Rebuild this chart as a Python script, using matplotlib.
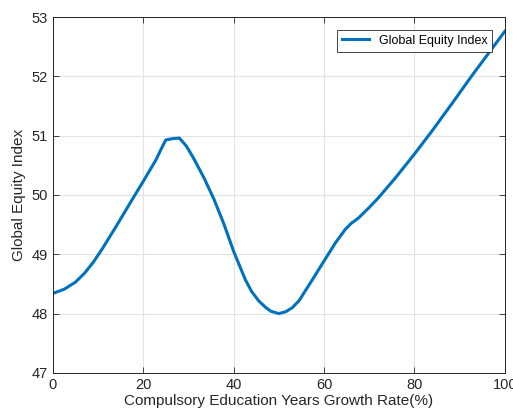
import matplotlib
matplotlib.use('Agg')
import matplotlib.pyplot as plt

plt.rcParams['font.family'] = ['Liberation Sans', 'DejaVu Sans']

# growth rate (%) and index values along the curve
growth_rate = [0, 2.5, 5, 7, 9, 11, 14, 17.3, 20, 22.8, 24, 25, 26.5, 28,
               29.5, 31, 33.5, 35.7, 37.9, 40, 42.6, 44, 45.6, 47, 48.2, 50,
               51.5, 53, 54.5, 56, 57.5, 59.7, 62.5, 64.7, 66, 67.6, 70, 72,
               75.7, 79.8, 83.8, 88.2, 92.6, 96.3, 100]
equity_index = [48.34, 48.41, 48.53, 48.68, 48.87, 49.10, 49.47, 49.89,
                50.23, 50.59, 50.78, 50.93, 50.95, 50.96, 50.83, 50.64,
                50.28, 49.92, 49.50, 49.05, 48.57, 48.37, 48.21, 48.11,
                48.04, 48.00, 48.03, 48.10, 48.22, 48.40, 48.58, 48.85,
                49.19, 49.42, 49.52, 49.61, 49.79, 49.95, 50.28, 50.67,
                51.07, 51.53, 52.00, 52.38, 52.76]

fig = plt.figure(figsize=(5.13, 4.18), dpi=100)
ax = fig.add_axes([0.103, 0.108, 0.881, 0.851])

ax.plot(growth_rate, equity_index, color='#0072BD', linewidth=2.2,
        solid_joinstyle='round', label='Global Equity Index')

ax.set_xlim(0, 100)
ax.set_ylim(47, 53)
ax.set_xticks([0, 20, 40, 60, 80, 100])
ax.set_yticks([47, 48, 49, 50, 51, 52, 53])
ax.grid(True, color='#e3e3e3', linewidth=0.8)
ax.set_axisbelow(True)
ax.tick_params(direction='in', top=True, right=True, labelsize=10.5,
               colors='#262626', length=4, width=0.6)
for s in ax.spines.values():
    s.set_color('#262626')
    s.set_linewidth(0.7)

ax.set_xlabel('Compulsory Education Years Growth Rate(%)', fontsize=11,
              color='#262626', labelpad=2)
ax.set_ylabel('Global Equity Index', fontsize=11, color='#262626', labelpad=4)

leg = ax.legend(loc='upper right', fontsize=9, fancybox=False,
                edgecolor='#262626', framealpha=1, handlelength=2.1,
                borderaxespad=1.0)
leg.get_frame().set_linewidth(0.6)

fig.savefig('out.png', dpi=100)
